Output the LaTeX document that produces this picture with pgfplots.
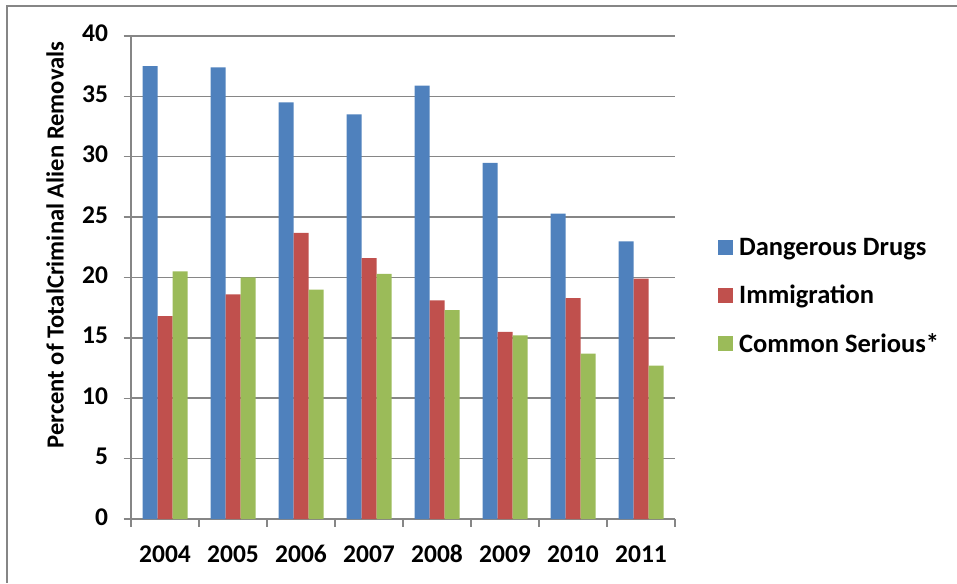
\documentclass[border=0pt]{standalone}
\usepackage{pgfplots}
\pgfplotsset{compat=1.18}
\usepackage{fontspec}
\setmainfont{Carlito}

\definecolor{drugblue}{HTML}{4F81BD}
\definecolor{immred}{HTML}{C0504D}
\definecolor{sergreen}{HTML}{9BBB59}
\definecolor{gridgray}{HTML}{868686}

\begin{document}
\begin{tikzpicture}[x=1pt,y=1pt]
\begin{axis}[
  at={(131pt,64pt)}, anchor=south west,
  scale only axis,
  width=544pt, height=483pt,
  ybar=0pt, bar width=15pt,
  xmin=-0.5, xmax=7.5,
  ymin=0, ymax=40,
  ytick={0,5,...,40},
  xtick={-0.5,0.5,...,7.5},
  xticklabels={2004,2005,2006,2007,2008,2009,2010,2011,{}},
  typeset ticklabels with strut,
  xticklabel style={xshift=34pt, yshift=-11pt},
  yticklabel style={xshift=-12pt},
  axis x line*=bottom, axis y line*=left,
  axis line style={gridgray, line width=1.3pt},
  tick align=outside, major tick length=7.5pt,
  tick style={gridgray, line width=1.3pt},
  ymajorgrids, grid style={gridgray, line width=1.5pt},
  /pgf/number format/assume math mode=true,
  ticklabel style={font=\bfseries\fontsize{25.5}{30}\selectfont},
  legend style={draw=none, fill=none, inner sep=0pt,
    at={(1.079,0.585)}, anchor=north west,
    font=\bfseries\fontsize{26.5}{31}\selectfont,
    row sep=24pt, column sep=4pt, cells={anchor=west}},
  legend cell align=left,
  legend image code/.code={\fill[#1] (0pt,-7.5pt) rectangle (15pt,7.5pt);},
]
\addplot[fill=drugblue, draw=none] coordinates {
  (0,37.5) (1,37.4) (2,34.5) (3,33.5) (4,35.9) (5,29.5) (6,25.3) (7,23.0)};
\addplot[fill=immred, draw=none] coordinates {
  (0,16.8) (1,18.6) (2,23.7) (3,21.6) (4,18.1) (5,15.5) (6,18.3) (7,19.9)};
\addplot[fill=sergreen, draw=none] coordinates {
  (0,20.5) (1,20.0) (2,19.0) (3,20.3) (4,17.3) (5,15.2) (6,13.7) (7,12.7)};
\legend{Dangerous Drugs, Immigration, Common Serious*}
\end{axis}
% axis title
\node[rotate=90, font=\bfseries\fontsize{24.6}{29}\selectfont] at (55pt,338pt)
  {Percent of TotalCriminal Alien Removals};
% chart frame (top and left edges)
\draw[gridgray, line width=1.5pt] (957pt,577pt) -- (7pt,577pt) -- (7pt,0pt);
\pgfresetboundingbox
\useasboundingbox (0pt,0pt) rectangle (957pt,583pt);
\end{tikzpicture}
\end{document}
